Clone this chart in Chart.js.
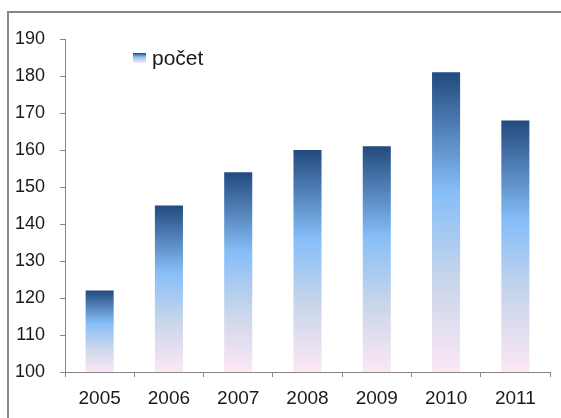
<!DOCTYPE html>
<html>
<head>
<meta charset="utf-8">
<script src="https://cdn.jsdelivr.net/npm/chart.js@4/dist/chart.umd.min.js"></script>
<style>
  html, body { margin: 0; padding: 0; background: #fff; }
  #wrap { width: 561px; height: 418px; position: relative; }
</style>
</head>
<body>
<div id="wrap"><canvas id="countChart" width="561" height="418"></canvas></div>
<script>
var years = ['2005', '2006', '2007', '2008', '2009', '2010', '2011'];
var counts = [122, 145, 154, 160, 161, 181, 168];
var seriesName = 'počet';
var yMin = 100, yMax = 190, yStep = 10;

var FONT = '"Liberation Sans", Arial, sans-serif';

// gradient per bar: dark on top, light blue in middle, pink at base
function barGradient(ctx, top, bottom) {
    var g = ctx.createLinearGradient(0, top, 0, bottom);
    g.addColorStop(0, '#224a7e');
    g.addColorStop(0.4, '#86bef8');
    g.addColorStop(0.7, '#c9d6ea');
    g.addColorStop(1, '#fde7f5');
    return g;
}

// grey frame (top and left edge) + legend inside plot
var framePlugin = {
    id: 'frame',
    beforeDraw: function (chart) {
        var c = chart.ctx;
        c.save();
        c.fillStyle = '#ffffff';
        c.fillRect(0, 0, chart.width, chart.height);
        c.fillStyle = '#868686';
        c.fillRect(7, 11, chart.width - 7, 2);
        c.fillRect(7, 11, 2, chart.height - 11);
        c.restore();
    },
    afterDraw: function (chart) {
        var c = chart.ctx;
        c.save();
        c.fillStyle = barGradient(c, 53, 63);
        c.fillRect(133, 53, 13, 10);
        c.fillStyle = '#1a1a1a';
        c.font = '21px ' + FONT;
        c.textBaseline = 'alphabetic';
        c.fillText(seriesName, 152, 65);
        c.restore();
    }
};

var countData = {
    labels: years,
    datasets: [{
        label: seriesName,
        data: counts,
        backgroundColor: function (context) {
            var chart = context.chart;
            if (!chart.chartArea) return '#86bef8';
            var y = chart.scales.y;
            var v = context.raw;
            return barGradient(chart.ctx, y.getPixelForValue(v), y.getPixelForValue(yMin));
        },
        borderWidth: 0,
        categoryPercentage: 1,
        barPercentage: 0.405
    }]
};

var countConfig = {
    type: 'bar',
    data: countData,
    options: {
        responsive: false,
        animation: false,
        layout: { padding: { top: 39, right: 11, left: 0, bottom: 0 } },
        plugins: {
            legend: { display: false },
            tooltip: { enabled: false }
        },
        scales: {
            x: {
                grid: { display: true, drawOnChartArea: false, drawTicks: true, tickLength: 5, color: '#868686', offset: true },
                border: { color: '#868686', width: 1 },
                ticks: { color: '#1a1a1a', font: { family: FONT, size: 19 }, padding: 10, maxRotation: 0 },
                afterFit: function (scale) { scale.height = 46; }
            },
            y: {
                min: yMin,
                max: yMax,
                grid: { display: true, drawOnChartArea: false, drawTicks: true, tickLength: 5, color: '#868686' },
                border: { color: '#868686', width: 1 },
                ticks: { stepSize: yStep, color: '#1a1a1a', font: { family: FONT, size: 18 }, padding: 15 },
                afterFit: function (scale) { scale.width = 65; }
            }
        }
    },
    plugins: [framePlugin]
};

var countChart = new Chart(document.getElementById('countChart'), countConfig);
</script>
</body>
</html>
